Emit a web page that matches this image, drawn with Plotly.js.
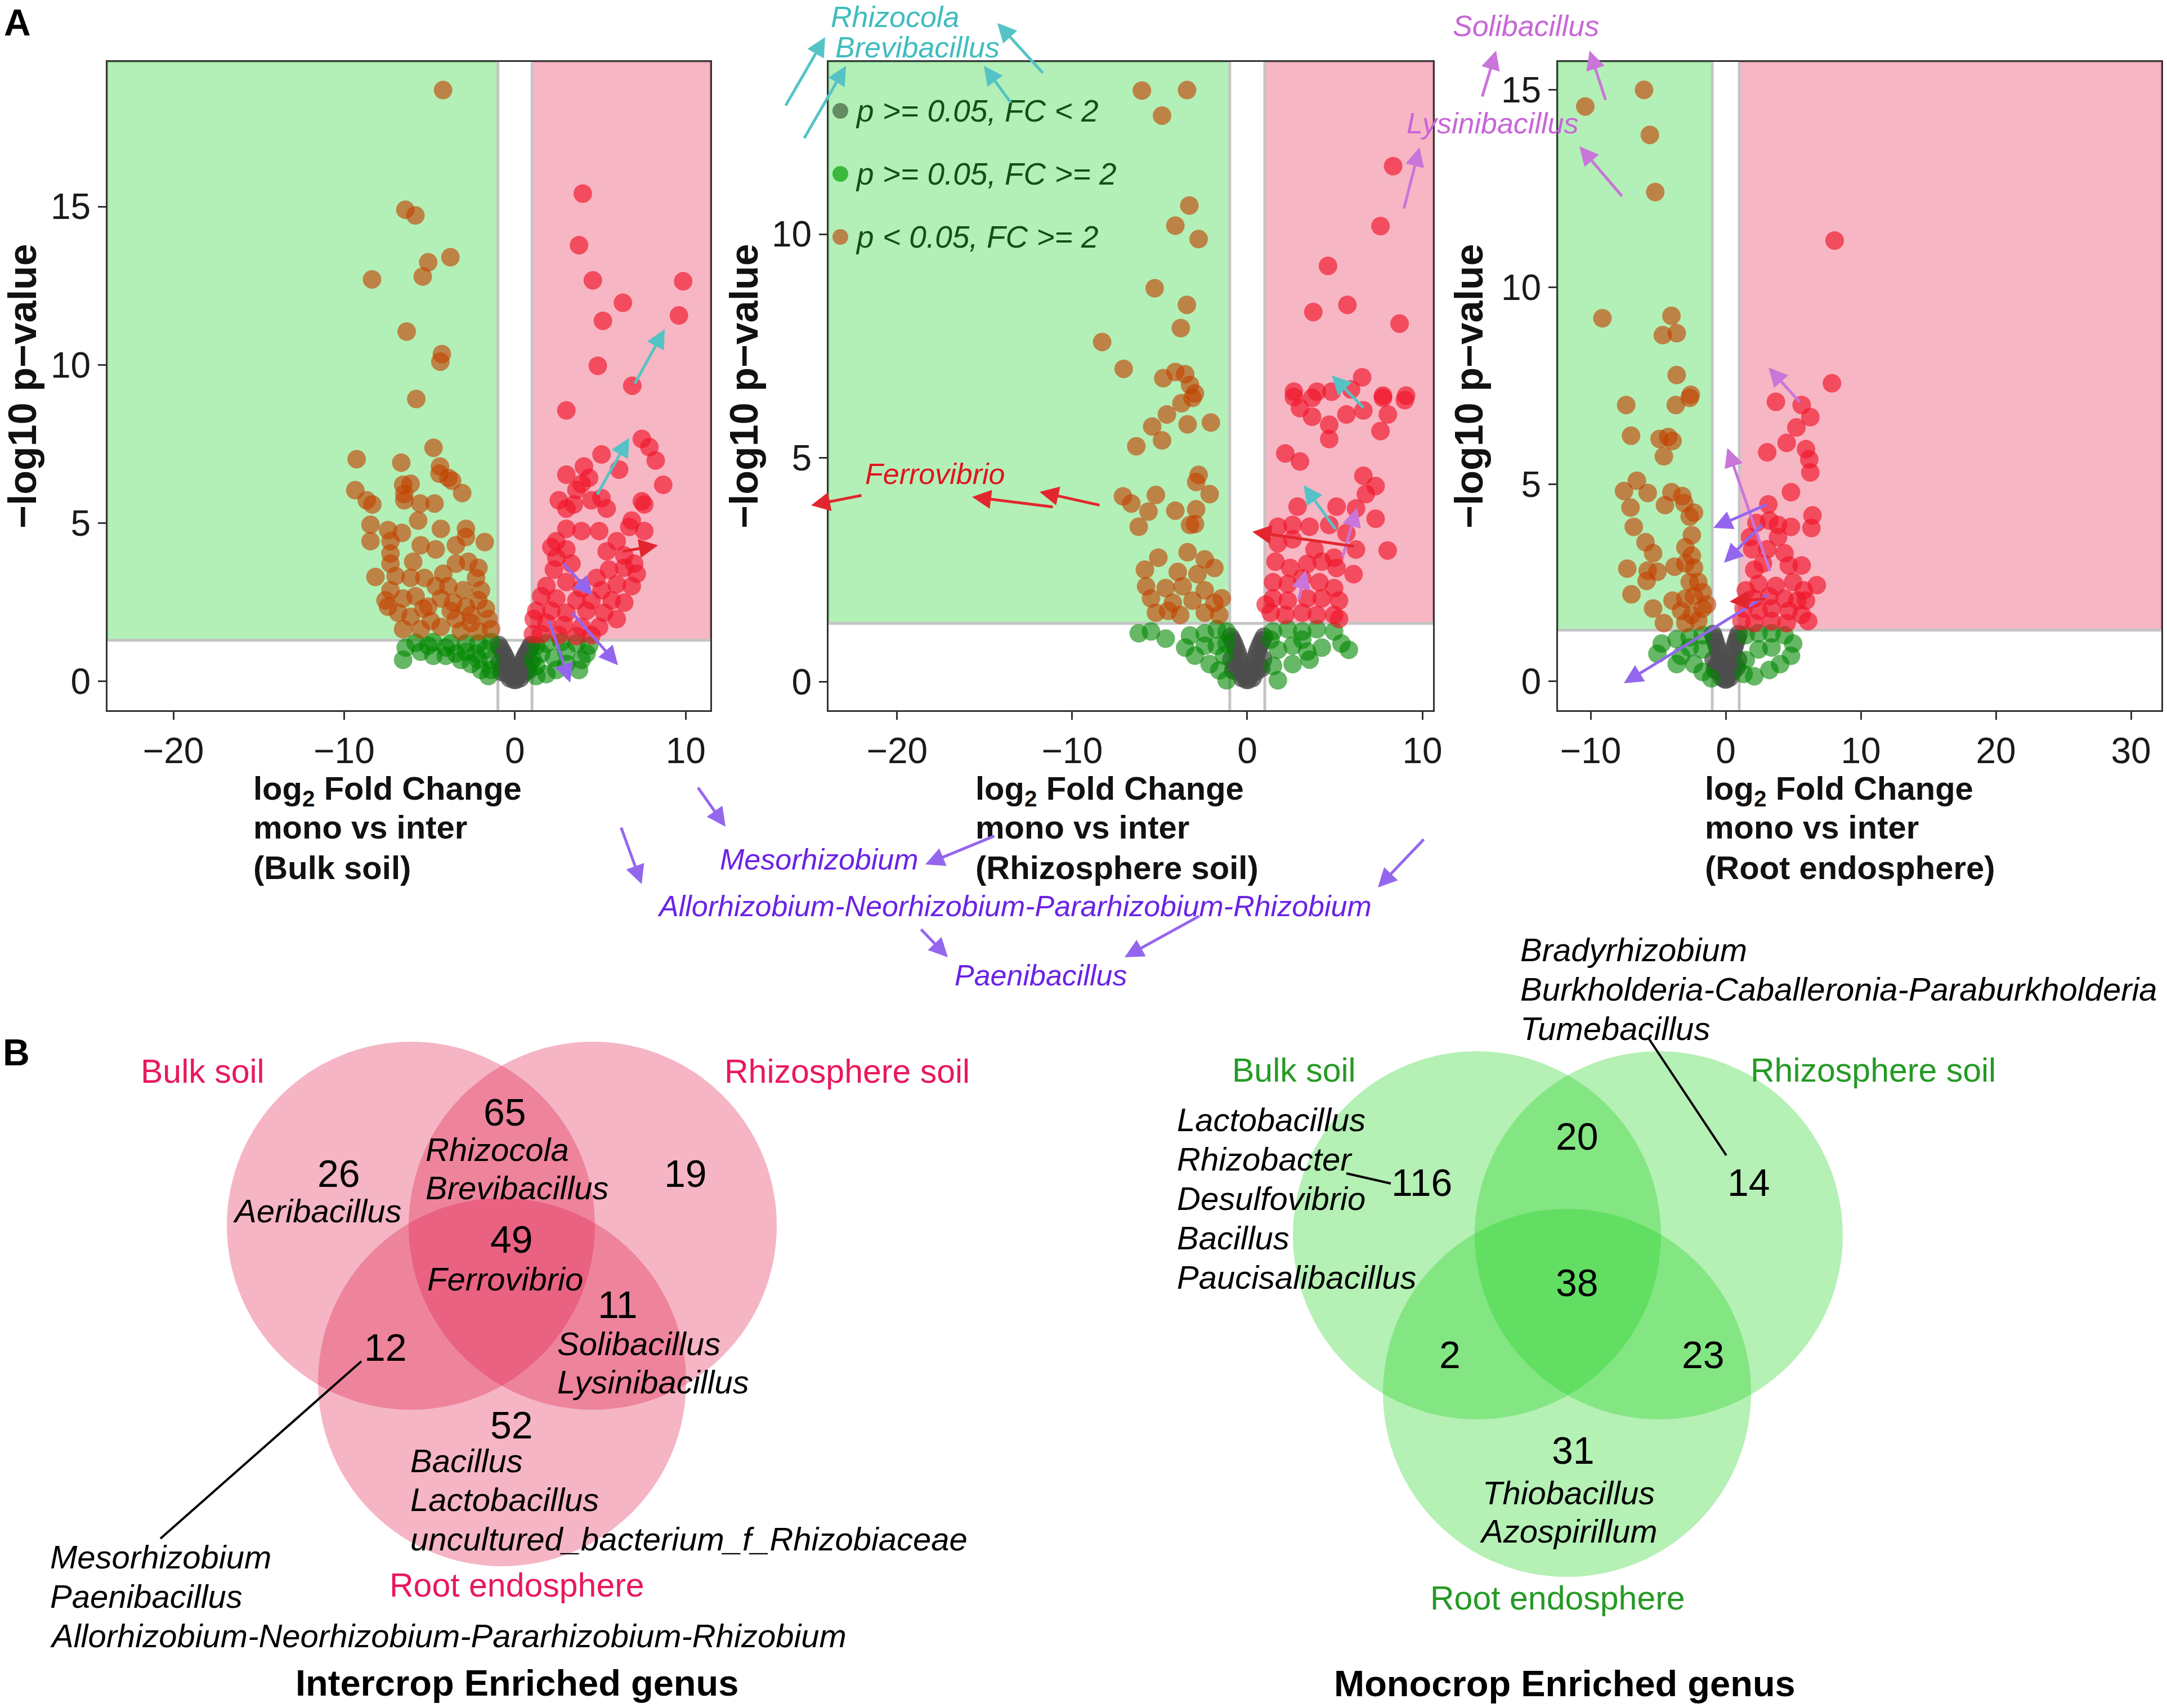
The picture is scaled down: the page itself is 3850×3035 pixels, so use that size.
<!DOCTYPE html>
<html>
<head>
<meta charset="utf-8">
<script src="https://cdn.plot.ly/plotly-3.0.1.min.js"></script>
<style>html,body{margin:0;padding:0;background:#fff;}#chart{width:3850px;height:3035px;}</style>
</head>
<body>
<div id="chart"></div>
<script>
// ---------------- DATA ----------------
// Volcano panel 1: Bulk soil
const bulkGrayX = [-0.95,-0.85,-0.75,-0.65,-0.55,-0.45,-0.35,-0.25,-0.15,-0.05,0.05,0.15,0.25,0.35,0.45,0.55,0.65,0.75,0.85,0.95,-0.9,-0.7,-0.5,-0.3,0.3,0.5,0.7,0.9,-0.8,0.8];
const bulkGrayY = [1.15,1.05,0.95,0.85,0.75,0.62,0.48,0.35,0.18,0.05,0.05,0.18,0.35,0.48,0.62,0.75,0.85,0.95,1.05,1.15,0.6,0.4,0.25,0.1,0.1,0.25,0.4,0.6,0.3,0.35];
const bulkGreenX = [-6.55,-6.40,-5.52,-4.78,-5.82,-4.78,-3.76,-2.87,-2.14,-1.40,-4.05,-3.17,-2.58,-1.99,-1.55,-1.40,-2.87,-3.46,-2.28,-1.70,-1.40,-2.14,-5.08,-4.05,
  1.25,1.84,2.72,3.60,4.34,3.90,3.75,3.01,2.28,1.54,1.25,1.84,2.42,3.01,1.25,4.19,1.05];
const bulkGreenY = [0.68,1.07,0.94,0.81,1.22,1.24,1.20,1.20,1.20,1.24,0.81,0.68,0.55,0.36,0.17,0.68,0.94,0.88,0.88,1.01,0.36,0.68,1.13,1.07,
  1.13,1.20,1.24,1.20,1.13,0.68,0.36,0.55,0.75,0.88,0.49,0.23,0.36,0.94,0.17,0.88,0.68];
const bulkDownX = [-4.21,-6.42,-5.83,-3.78,-5.08,-5.40,-8.37,-6.34,-4.28,-4.37,-5.78,-4.77,-9.27,-6.66,
  -4.39,-4.42,-3.90,-3.68,-9.35,-6.55,-6.11,-3.09,-8.68,-8.35,-6.48,-6.48,-5.55,-4.71,-5.67,-8.46,-7.43,-8.46,-7.29,-6.62,-4.34,-2.87,-1.77,-2.87,-3.46,-4.64,-5.52,-7.29,-5.96,-8.17,-6.99,-7.29,-5.30,-4.20,-3.46,-2.73,-2.28,-2.14,-3.90,-3.02,-1.99,-7.29,-7.58,-7.43,-6.55,-5.82,-5.37,-4.34,-3.61,-2.87,-2.14,-1.70,-1.55,-6.11,-4.93,-3.46,-2.58,-6.55,-5.52,-4.34,-3.17,-2.14,-1.40,-3.76,-2.58,-6.84,-5.08,-4.64,-6.11];
const bulkDownY = [18.68,14.90,14.72,13.40,13.24,12.79,12.70,11.05,10.34,10.10,8.92,7.38,7.02,6.91,
  6.79,6.56,6.43,6.34,6.04,6.21,6.24,5.95,5.72,5.59,5.92,5.72,5.62,5.62,5.08,4.95,4.78,4.43,4.43,4.69,4.82,4.82,4.40,4.56,4.30,4.17,4.30,4.04,3.78,3.30,3.33,3.72,3.27,3.40,3.72,3.78,3.27,3.59,3.01,2.88,2.88,2.88,2.56,2.36,2.62,2.69,2.30,2.62,2.49,2.36,2.56,2.30,1.97,2.04,1.91,1.97,1.85,1.65,1.65,1.72,1.59,1.59,1.65,2.23,2.10,2.17,2.36,3.01,3.27];
const bulkUpX = [3.97,3.75,4.56,9.85,6.32,5.15,9.60,4.85,6.87,3.01,7.43,7.87,5.07,8.24,4.04,6.10,3.01,4.34,3.90,8.68,3.60,2.57,3.45,4.48,5.07,5.37,7.43,7.57,3.01,6.84,6.69,7.57,3.01,3.90,4.93,2.42,2.13,3.01,5.37,5.96,6.40,6.98,7.13,2.42,3.31,2.28,5.51,6.40,6.84,5.96,1.84,3.01,3.90,4.78,5.07,1.54,2.42,3.60,4.48,5.66,6.40,1.25,2.13,3.01,4.19,5.22,5.96,1.10,1.84,2.87,3.90,4.93,1.05,1.54,2.57,3.60,4.48];
const bulkUpY = [15.41,13.78,12.67,12.64,11.96,11.39,11.56,9.97,9.34,8.56,7.66,7.40,7.17,6.98,6.79,6.69,6.53,6.43,6.24,6.21,6.05,5.72,5.59,5.72,5.79,5.46,5.69,5.59,5.46,5.08,4.88,4.75,4.82,4.75,4.75,4.43,4.24,4.17,4.11,4.43,3.98,3.72,3.40,3.91,3.72,3.53,3.53,3.59,3.01,3.07,3.01,3.14,2.94,3.27,2.88,2.69,2.62,2.56,2.56,2.56,2.49,2.23,2.23,2.17,2.23,2.17,1.97,1.97,1.85,1.78,1.72,1.72,1.49,1.49,1.46,1.43,1.46];

// Volcano panel 2: Rhizosphere soil
const rhizoGrayX = [-0.95,-0.85,-0.75,-0.65,-0.55,-0.45,-0.35,-0.25,-0.15,-0.05,0.05,0.15,0.25,0.35,0.45,0.55,0.65,0.75,0.85,0.95,-0.9,-0.7,-0.5,-0.3,0.3,0.5,0.7,0.9,-0.8,0.8];
const rhizoGrayY = [1.00,0.92,0.84,0.74,0.64,0.52,0.40,0.28,0.15,0.04,0.04,0.15,0.28,0.40,0.52,0.64,0.74,0.84,0.92,1.00,0.50,0.35,0.22,0.08,0.08,0.22,0.35,0.50,0.25,0.30];
const rhizoGreenX = [-6.20,-5.50,-4.66,-3.27,-2.43,-1.74,-1.18,-3.55,-2.99,-2.43,-2.15,-1.60,-1.18,-1.32,-1.74,-1.18,
  1.47,2.31,3.14,3.98,4.96,5.38,5.80,4.26,3.42,2.59,1.75,1.47,1.75,2.59,3.56,1.33,3.14];
const rhizoGreenY = [1.08,1.12,0.96,1.03,1.08,1.17,1.12,0.76,0.58,0.80,0.39,0.25,0.03,0.58,0.80,0.85,
  1.12,1.17,1.12,1.17,1.12,0.85,0.71,0.76,0.67,0.80,0.71,0.35,0.03,0.39,0.49,0.94,0.94];
const rhizoDownX = [-6.02,-3.44,-4.87,-3.31,-4.11,-2.78,-5.29,-3.45,-3.80,-8.29,-7.06,-4.80,-4.11,-3.55,-3.27,-2.99,
  -3.13,-3.76,-4.59,-5.43,-3.41,-2.08,-4.87,-6.34,-2.78,-2.92,-2.15,-7.10,-6.62,-5.22,-5.64,-4.11,-2.92,-2.99,-3.27,-6.20,-3.41,-5.08,-2.43,-1.88,-5.85,-3.97,-2.85,-5.78,-4.66,-3.69,-2.43,-5.50,-4.25,-3.13,-1.88,-5.22,-3.83,-2.43,-1.60,-1.46,-4.52];
const rhizoDownY = [13.21,13.22,12.65,10.64,10.19,9.89,8.79,8.42,7.90,7.59,6.99,6.78,6.92,6.87,6.63,6.44,
  6.34,6.22,5.97,5.70,5.75,5.79,5.39,5.26,4.62,4.46,4.19,4.14,3.98,4.17,3.80,3.82,3.85,3.52,3.50,3.46,2.89,2.77,2.73,2.54,2.50,2.45,2.40,2.13,2.09,2.13,2.04,1.86,1.76,1.81,1.76,1.54,1.49,1.54,1.49,1.86,1.58];
const rhizoUpX = [8.33,7.61,4.61,5.72,3.77,8.70,6.56,2.66,3.98,4.82,7.75,9.07,5.93,
  2.66,3.70,3.01,3.70,4.68,4.68,5.66,6.63,8.03,7.61,9.00,7.75,2.17,3.01,6.63,7.33,6.77,2.87,5.10,6.21,7.33,1.75,2.59,3.56,4.68,5.66,6.21,8.02,1.75,2.59,3.84,4.96,1.61,2.45,3.42,4.26,5.10,6.07,1.47,2.31,3.14,4.12,4.96,1.47,2.31,3.42,4.26,5.24,1.33,2.17,3.14,3.98,4.96,1.05,5.24];
const rhizoUpY = [11.52,10.18,9.29,8.42,8.26,8.00,6.80,6.48,6.48,6.48,6.39,6.39,6.53,
  6.36,6.34,6.11,5.92,5.74,5.42,5.97,6.06,5.97,5.60,6.29,6.34,5.10,4.92,4.60,4.37,4.19,3.91,3.91,3.87,3.64,3.46,3.50,3.46,3.50,3.32,2.95,2.93,3.09,3.18,2.95,2.77,2.68,2.54,2.63,2.68,2.54,2.40,2.22,2.18,2.31,2.22,2.09,1.86,1.81,1.86,1.86,1.81,1.54,1.49,1.54,1.49,1.49,1.72,1.40];

// Volcano panel 3: Root endosphere
const rootGrayX = [-0.95,-0.85,-0.75,-0.65,-0.55,-0.45,-0.35,-0.25,-0.15,-0.05,0.05,0.15,0.25,0.35,0.45,0.55,0.65,0.75,0.85,0.95,-0.9,-0.7,-0.5,-0.3,0.3,0.5,0.7,0.9,-0.8,0.8];
const rootGrayY = [1.20,1.10,1.00,0.88,0.76,0.62,0.48,0.34,0.18,0.05,0.05,0.18,0.34,0.48,0.62,0.76,0.88,1.00,1.10,1.20,0.55,0.40,0.25,0.10,0.10,0.25,0.40,0.55,0.30,0.35];
const rootGreenX = [-4.74,-5.06,-3.63,-2.67,-1.71,-3.31,-2.35,-1.71,-1.07,-1.71,-2.67,-3.63,
  1.48,2.43,3.39,4.35,4.99,4.83,4.03,3.23,2.11,1.48,2.43,3.39,1.32];
const rootGreenY = [0.96,0.70,1.07,1.12,1.17,0.65,0.44,0.24,0.08,0.81,0.86,0.44,
  1.17,1.22,1.22,1.17,0.96,0.65,0.44,0.29,0.13,0.54,0.81,0.86,0.19];
const rootDownX = [-6.05,-10.40,-5.62,-5.22,-9.13,-4.02,-4.66,-3.63,-3.63,-2.59,
  -7.37,-3.70,-2.67,-7.01,-4.90,-4.26,-3.94,-4.58,-6.58,-7.53,-5.78,-7.05,-4.50,-4.02,-3.22,-3.07,-2.35,-2.67,-6.81,-5.94,-5.38,-2.51,-2.99,-2.51,-7.29,-5.78,-5.06,-5.86,-3.79,-2.99,-2.35,-6.98,-2.67,-2.03,-5.38,-3.94,-2.99,-2.35,-1.71,-4.58,-3.31,-2.51,-1.71,-2.99,-2.03,-1.39];
const rootDownY = [15.00,14.58,13.86,12.41,9.21,9.27,8.78,8.83,7.77,7.27,
  7.01,7.01,7.19,6.23,6.15,6.20,6.10,5.71,5.09,4.83,4.78,4.41,4.47,4.80,4.70,4.52,4.28,4.18,3.92,3.53,3.25,3.71,3.40,3.19,2.86,2.81,2.78,2.55,2.91,2.99,2.88,2.21,2.52,2.52,1.85,2.05,2.10,2.16,2.26,1.48,1.79,1.69,1.85,1.48,1.54,1.95];
const rootUpX = [8.06,7.86,3.71,5.62,6.26,5.23,4.51,3.07,5.94,6.18,6.26,4.83,3.15,6.42,6.34,2.27,3.23,3.87,4.83,1.80,3.87,1.96,3.07,4.35,5.62,2.11,2.75,4.67,6.74,2.43,3.71,4.99,5.78,1.48,2.11,3.23,4.35,5.31,5.94,1.32,2.43,3.39,4.67,5.62,1.16,2.11,3.39,4.51,6.10];
const rootUpY = [11.18,7.56,7.09,7.01,6.70,6.44,6.05,5.81,5.89,5.63,5.30,4.80,4.49,4.21,3.89,4.02,4.08,3.97,3.92,3.66,3.66,3.35,3.35,3.25,2.94,2.83,2.99,2.94,2.44,2.47,2.42,2.52,2.31,2.31,2.10,2.16,2.10,2.05,2.05,1.85,1.79,1.85,1.79,1.69,1.53,1.48,1.53,1.48,1.53];

// Tick values
const xTicks1 = [-20,-10,0,10];
const yTicks1 = [0,5,10,15];
const xTicks2 = [-20,-10,0,10];
const yTicks2 = [0,5,10];
const xTicks3 = [-10,0,10,20,30];
const yTicks3 = [0,5,10,15];

// Legend categories
const legendLabels = ['p >= 0.05, FC < 2','p >= 0.05, FC >= 2','p < 0.05, FC >= 2'];

// Venn diagrams
const vennSets = ['Bulk soil','Rhizosphere soil','Root endosphere'];
const vennRegions = ['B','R','E','BR','BE','RE','BRE'];
const interCounts = [26,19,52,65,12,11,49];
const monoCounts = [116,14,31,20,2,23,38];
const interGenusB = ['Aeribacillus'];
const interGenusBR = ['Rhizocola','Brevibacillus'];
const interGenusBRE = ['Ferrovibrio'];
const interGenusRE = ['Solibacillus','Lysinibacillus'];
const interGenusE = ['Bacillus','Lactobacillus','uncultured_bacterium_f_Rhizobiaceae'];
const interGenusBE = ['Mesorhizobium','Paenibacillus','Allorhizobium-Neorhizobium-Pararhizobium-Rhizobium'];
const monoGenusR = ['Bradyrhizobium','Burkholderia-Caballeronia-Paraburkholderia','Tumebacillus'];
const monoGenusB = ['Lactobacillus','Rhizobacter','Desulfovibrio','Bacillus','Paucisalibacillus'];
const monoGenusE = ['Thiobacillus','Azospirillum'];

// ---------------- LAYOUT / STYLE ----------------
const W = 3850, H = 3035;
const FONT = 'Liberation Sans, Arial, sans-serif';
const PX = x => x / W, PY = y => 1 - y / H;
const THR = -Math.log10(0.05);

const panels = [
  {ax:'', x0:191, x1:1262, xr:[-23.86,11.44], yr:[-0.91,19.57], xt:xTicks1, yt:yTicks1,
   gray:[bulkGrayX,bulkGrayY], green:[bulkGreenX,bulkGreenY], down:[bulkDownX,bulkDownY], up:[bulkUpX,bulkUpY],
   ytx:40, xtx:448, name:'(Bulk soil)'},
  {ax:'2', x0:1472, x1:2546, xr:[-23.92,10.61], yr:[-0.64,13.85], xt:xTicks2, yt:yTicks2,
   gray:[rhizoGrayX,rhizoGrayY], green:[rhizoGreenX,rhizoGreenY], down:[rhizoDownX,rhizoDownY], up:[rhizoUpX,rhizoUpY],
   ytx:1322, xtx:1731, name:'(Rhizosphere soil)'},
  {ax:'3', x0:2768, x1:3840, xr:[-12.42,32.25], yr:[-0.73,15.71], xt:xTicks3, yt:yTicks3,
   gray:[rootGrayX,rootGrayY], green:[rootGreenX,rootGreenY], down:[rootDownX,rootDownY], up:[rootUpX,rootUpY],
   ytx:2610, xtx:3027, name:'(Root endosphere)'}
];
const PTOP = 110, PBOT = 1262;

const styles = {
  gray:{color:'rgb(77,77,77)', opacity:0.75},
  green:{color:'rgb(0,135,0)', opacity:0.6},
  down:{color:'rgb(195,65,0)', opacity:0.62},
  up:{color:'rgb(240,20,40)', opacity:0.65}
};

const traces = [];
const shapes = [];
const annotations = [];
const layout = {
  width:W, height:H, margin:{l:0,r:0,t:0,b:0}, paper_bgcolor:'#fff', plot_bgcolor:'#fff',
  showlegend:false, font:{family:FONT, color:'#1a1a1a'}
};

panels.forEach(p => {
  const xa = 'xaxis' + p.ax, ya = 'yaxis' + p.ax;
  const xr = 'x' + p.ax, yr = 'y' + p.ax;
  const axisCommon = {showgrid:false, zeroline:false, showline:true, mirror:true, linecolor:'#333', linewidth:3,
    ticks:'outside', ticklen:14, tickwidth:3, tickcolor:'#333', tickfont:{family:FONT, size:64, color:'#1a1a1a'}, fixedrange:true};
  layout[xa] = Object.assign({}, axisCommon, {domain:[PX(p.x0), PX(p.x1)], range:p.xr, tickvals:p.xt, anchor:yr});
  layout[ya] = Object.assign({}, axisCommon, {domain:[PY(PBOT), PY(PTOP)], range:p.yr, tickvals:p.yt, anchor:xr});
  ['gray','green','down','up'].forEach(k => {
    traces.push({type:'scatter', mode:'markers', x:p[k][0], y:p[k][1], xaxis:xr, yaxis:yr, hoverinfo:'skip',
      marker:{size:33, color:styles[k].color, opacity:styles[k].opacity, line:{width:0}}, cliponaxis:true});
  });
  shapes.push({type:'rect', xref:xr, yref:yr, x0:p.xr[0], x1:-1, y0:THR, y1:p.yr[1], fillcolor:'#b3f0b7', line:{color:'#8fd895', width:3}, layer:'below'});
  shapes.push({type:'rect', xref:xr, yref:yr, x0:1, x1:p.xr[1], y0:THR, y1:p.yr[1], fillcolor:'#f7b6c4', line:{color:'#dc97a7', width:3}, layer:'below'});
  shapes.push({type:'line', xref:xr, yref:yr, x0:-1, x1:-1, y0:p.yr[0], y1:p.yr[1], line:{color:'#c4c4c4', width:5}, layer:'below'});
  shapes.push({type:'line', xref:xr, yref:yr, x0:1, x1:1, y0:p.yr[0], y1:p.yr[1], line:{color:'#c4c4c4', width:5}, layer:'below'});
  shapes.push({type:'line', xref:xr, yref:yr, x0:p.xr[0], x1:p.xr[1], y0:THR, y1:THR, line:{color:'#c4c4c4', width:5}, layer:'below'});
  // axis titles
  annotations.push({xref:'paper', yref:'paper', x:PX(p.ytx), y:PY((PTOP+PBOT)/2), text:'<b>\u2212log10 p\u2212value</b>', textangle:-90,
    showarrow:false, xanchor:'center', yanchor:'middle', font:{family:FONT, size:70, color:'#111'}});
  const xl = ['<b>log<sub>2</sub> Fold Change</b>', '<b>mono vs inter</b>', '<b>' + p.name + '</b>'];
  const xy = [1405, 1469, 1541];
  xl.forEach((t,i) => annotations.push({xref:'paper', yref:'paper', x:PX(p.xtx), y:PY(xy[i]), text:t, showarrow:false,
    xanchor:'left', yanchor:'middle', font:{family:FONT, size:58, color:'#111'}}));
});

// legend inside panel 2
const legendColors = ['rgb(100,140,100)','rgb(60,185,60)','rgb(185,130,72)'];
const legendY = [197, 309, 421];
legendLabels.forEach((t,i) => {
  shapes.push({type:'circle', xref:'paper', yref:'paper', x0:PX(1479), x1:PX(1507), y0:PY(legendY[i]+14), y1:PY(legendY[i]-14),
    fillcolor:legendColors[i], line:{width:0}});
  annotations.push({xref:'paper', yref:'paper', x:PX(1518), y:PY(legendY[i]), text:'<i>' + t + '</i>', showarrow:false,
    xanchor:'left', yanchor:'middle', font:{family:FONT, size:55, color:'#154f15'}});
});

// gene labels with arrows
const CYAN = '#55c3c6', ORCHID = '#c975da', PURPLE = '#9466ee', RED = '#e3262e';
const arrows = [
  [1127,683,1181,585,CYAN],[1060,880,1118,778,CYAN],[2424,726,2366,667,CYAN],[2374,942,2316,862,CYAN],
  [1395,189,1466,66,CYAN],[1428,247,1503,117,CYAN],[1854,131,1772,41,CYAN],[1797,184,1748,117,CYAN],
  [2494,372,2522,262,ORCHID],[2385,991,2411,902,ORCHID],[2307,1067,2320,1013,ORCHID],[2633,173,2658,90,ORCHID],
  [2853,179,2824,90,ORCHID],[2883,350,2806,260,ORCHID],[3199,716,3142,653,ORCHID],[3145,1016,3069,796,ORCHID],
  [1000,1000,1053,1058,PURPLE],[1015,1087,1098,1182,PURPLE],[975,1102,1013,1213,PURPLE],[3140,896,3044,938,PURPLE],
  [3132,931,3063,1000,PURPLE],[3142,1056,2885,1214,PURPLE],[1239,1398,1289,1469,PURPLE],[1103,1469,1140,1571,PURPLE],
  [1768,1485,1644,1536,PURPLE],[2531,1490,2448,1577,PURPLE],[2132,1627,1998,1701,PURPLE],[1635,1650,1684,1701,PURPLE],
  [1105,980,1169,969,RED],[1955,898,1847,874,RED],[1872,901,1727,883,RED],[1532,880,1441,898,RED],
  [2407,971,2225,945,RED],[3138,1064,3073,1069,RED]
];
arrows.forEach(a => annotations.push({xref:'paper', yref:'paper', x:PX(a[2]), y:PY(a[3]), ax:a[0]-a[2], ay:a[1]-a[3],
  axref:'pixel', ayref:'pixel', text:'', showarrow:true, arrowhead:2, arrowsize:1.35, arrowwidth:5, arrowcolor:a[4], standoff:0, startstandoff:0}));

const geneLabels = [
  ['Rhizocola',1474,30,'#3fbcbe'],['Brevibacillus',1482,84,'#3fbcbe'],
  ['Solibacillus',2579,46,'#c866d8'],['Lysinibacillus',2497,219,'#c866d8'],
  ['Ferrovibrio',1535,842,'#e0141e'],
  ['Mesorhizobium',1277,1527,'#6a22e6'],['Allorhizobium-Neorhizobium-Pararhizobium-Rhizobium',1166,1610,'#6a22e6'],['Paenibacillus',1694,1733,'#6a22e6']
];
geneLabels.forEach(g => annotations.push({xref:'paper', yref:'paper', x:PX(g[1]), y:PY(g[2]), text:'<i>' + g[0] + '</i>', showarrow:false,
  xanchor:'left', yanchor:'middle', font:{family:FONT, size:52, color:g[3]}}));

// panel letters
annotations.push({xref:'paper', yref:'paper', x:PX(31), y:PY(40), text:'<b>A</b>', showarrow:false, xanchor:'center', yanchor:'middle', font:{family:FONT, size:66, color:'#000'}});
annotations.push({xref:'paper', yref:'paper', x:PX(29), y:PY(1870), text:'<b>B</b>', showarrow:false, xanchor:'center', yanchor:'middle', font:{family:FONT, size:66, color:'#000'}});

// Venn diagrams
function vennDiagram(cfg) {
  cfg.circles.forEach(c => shapes.push({type:'circle', xref:'paper', yref:'paper', x0:PX(c[0]-c[2]), x1:PX(c[0]+c[2]),
    y0:PY(c[1]+c[2]), y1:PY(c[1]-c[2]), fillcolor:cfg.fill, line:{width:0}, layer:'below'}));
  vennSets.forEach((s,i) => annotations.push({xref:'paper', yref:'paper', x:PX(cfg.setPos[i][0]), y:PY(cfg.setPos[i][1]), text:s,
    showarrow:false, xanchor:'center', yanchor:'middle', font:{family:FONT, size:59, color:cfg.labelColor}}));
  vennRegions.forEach((r,i) => annotations.push({xref:'paper', yref:'paper', x:PX(cfg.countPos[i][0]), y:PY(cfg.countPos[i][1]),
    text:String(cfg.counts[i]), showarrow:false, xanchor:'center', yanchor:'middle', font:{family:FONT, size:68, color:'#000'}}));
  cfg.genera.forEach(g => g.names.forEach((n,j) => annotations.push({xref:'paper', yref:'paper', x:PX(g.x), y:PY(g.y + j*g.dy),
    text:'<i>' + n + '</i>', showarrow:false, xanchor:g.anchor, yanchor:'middle', font:{family:FONT, size:58, color:'#000'}})));
  cfg.leaders.forEach(l => shapes.push({type:'line', xref:'paper', yref:'paper', x0:PX(l[0]), y0:PY(l[1]), x1:PX(l[2]), y1:PY(l[3]),
    line:{color:'#000', width:4}}));
  annotations.push({xref:'paper', yref:'paper', x:PX(cfg.title[1]), y:PY(cfg.title[2]), text:'<b>' + cfg.title[0] + '</b>',
    showarrow:false, xanchor:'center', yanchor:'middle', font:{family:FONT, size:65, color:'#000'}});
}
vennDiagram({
  circles:[[730,2178,327],[1053,2178,327],[892,2456,327]], fill:'rgba(225,30,75,0.33)', labelColor:'#e8195a',
  setPos:[[360,1904],[1505,1904],[918,2817]],
  counts:interCounts, countPos:[[602,2085],[1218,2085],[909,2532],[897,1976],[685,2394],[1097,2318],[909,2202]],
  genera:[
    {names:interGenusB, x:412, y:2151, dy:69, anchor:'left'},
    {names:interGenusBR, x:754, y:2042, dy:68, anchor:'left'},
    {names:interGenusBRE, x:757, y:2272, dy:68, anchor:'left'},
    {names:interGenusRE, x:988, y:2387, dy:68, anchor:'left'},
    {names:interGenusE, x:727, y:2595, dy:69.5, anchor:'left'},
    {names:interGenusBE, x:87, y:2766, dy:70, anchor:'left'}
  ],
  leaders:[[642,2419,285,2734]],
  title:['Intercrop Enriched genus', 918, 2990]
});
vennDiagram({
  circles:[[2624,2195,327],[2947,2195,327],[2784,2475,327]], fill:'rgba(30,210,30,0.33)', labelColor:'#249a24',
  setPos:[[2299,1902],[3328,1902],[2767,2840]],
  counts:monoCounts, countPos:[[2526,2101],[3107,2101],[2795,2577],[2802,2019],[2576,2407],[3026,2407],[2802,2279]],
  genera:[
    {names:monoGenusR, x:2699, y:1687, dy:70, anchor:'left'},
    {names:monoGenusB, x:2089, y:1989, dy:70, anchor:'left'},
    {names:monoGenusE, x:2787, y:2652, dy:68, anchor:'center'}
  ],
  leaders:[[2929,1845,3067,2053],[2392,2085,2471,2103]],
  title:['Monocrop Enriched genus', 2780, 2991]
});

layout.shapes = shapes;
layout.annotations = annotations;
Plotly.newPlot('chart', traces, layout, {staticPlot:true, displayModeBar:false});
</script>
</body>
</html>
